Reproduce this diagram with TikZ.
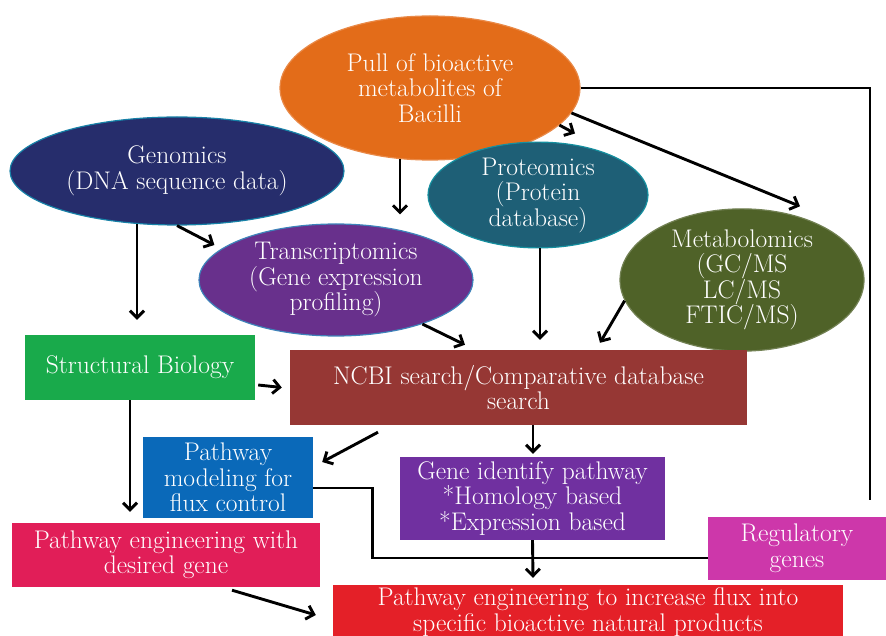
\documentclass[tikz,border=0pt]{standalone}
\usepackage{fontspec}
\usetikzlibrary{shapes.geometric,arrows.meta,calc}
\definecolor{pullc}{RGB}{227,108,25}
\definecolor{genc}{RGB}{38,45,108}
\definecolor{transc}{RGB}{104,48,140}
\definecolor{protc}{RGB}{30,95,118}
\definecolor{metabc}{RGB}{79,98,40}
\definecolor{sbc}{RGB}{25,170,75}
\definecolor{ncbic}{RGB}{150,55,52}
\definecolor{pmc}{RGB}{10,105,185}
\definecolor{gic}{RGB}{112,48,160}
\definecolor{pdgc}{RGB}{225,30,88}
\definecolor{regc}{RGB}{205,55,170}
\definecolor{botc}{RGB}{228,32,40}
\tikzset{
  txt/.style={text=white, align=center, font=\fontsize{25.5}{25.5}\selectfont},
  ell/.style={ellipse, txt, inner sep=0pt, line width=1.2pt},
  boxn/.style={rectangle, txt, inner sep=0pt},
  arr/.style={line width=2.9pt, -{Straight Barb[length=7pt,width=14pt]}},
  conn/.style={line width=2.9pt}
}
\begin{document}
\begin{tikzpicture}[x=1pt,y=1pt]
\useasboundingbox (0,0) rectangle (886,635);
\clip (0,0) rectangle (886,635);
\fill[white] (0,0) rectangle (886,635);
% ellipses
\node[ell, fill=pullc, draw=pullc!80!white, minimum width=300pt, minimum height=144pt] (pull) at (430,547) {Pull of bioactive\\metabolites of\\Bacilli};
\node[ell, fill=genc, draw=genc!60!cyan, minimum width=334pt, minimum height=108pt] (gen) at (177,464) {Genomics\\(DNA sequence data)};
\node[ell, fill=transc, draw=transc!60!cyan, minimum width=274pt, minimum height=112pt] (trans) at (336,355) {Transcriptomics\\(Gene expression\\profiling)};
\node[ell, fill=protc, draw=protc!70!cyan, minimum width=220pt, minimum height=100pt] (prot) at (538,440) {Proteomics\\(Protein\\database)};
\node[ell, fill=metabc, draw=metabc!80!white, minimum width=244pt, minimum height=114pt] (metab) at (742,355) {Metabolomics\\(GC/MS\\LC/MS\\FTIC/MS)};
% boxes
\node[boxn, fill=sbc, minimum width=230pt, minimum height=65pt] (sb) at (140,267.5) {Structural Biology};
\node[boxn, fill=ncbic, minimum width=457pt, minimum height=75pt] (ncbi) at (518.5,247.5) {NCBI search/Comparative database\\search};
\node[boxn, fill=pmc, minimum width=170pt, minimum height=81pt] (pm) at (228,157.5) {Pathway\\modeling for\\flux control};
\node[boxn, fill=gic, minimum width=265pt, minimum height=83pt] (gi) at (532.5,136.5) {Gene identify pathway\\*Homology based\\*Expression based};
\node[boxn, fill=pdgc, minimum width=308pt, minimum height=64pt] (pdg) at (166,80) {Pathway engineering with\\desired gene};
\node[boxn, fill=regc, minimum width=178pt, minimum height=63pt] (reg) at (797,86.5) {Regulatory\\genes};
\node[boxn, fill=botc, minimum width=510pt, minimum height=54pt] (bot) at (588,23) {Pathway engineering to increase flux into\\specific bioactive natural products};
% connectors
\coordinate (rend) at (870,135);
\draw[conn] (pull.east) -- (pull.east -| rend) -- (rend);
\draw[arr] (pull.-16) -- ($(prot.north)+(37,8)$);
\draw[arr] (pull.-10) -- ($(metab.north)+(58,2)$);
\draw[arr] ($(pull.south)+(-30,2)$) -- ($(trans.north)+(64,9)$);
\draw[arr] (gen.south) -- ($(trans.west)+(16,35)$);
\draw[arr] ($(gen.south)+(-40,2)$) -- ($(sb.north)+(-3,15)$);
\draw[arr] (trans.-27) -- ($(ncbi.north)+(-53.5,5)$);
\draw[arr] ($(prot.south)+(2,0)$) -- ($(ncbi.north)+(21.5,10)$);
\draw[arr] (metab.190) -- ($(ncbi.north)+(81.5,7)$);
\draw[arr] ($(sb.east)+(3,-17.5)$) -- ($(ncbi.west)+(-8,0)$);
\draw[arr] ($(sb.south)+(-10,0)$) -- ($(pdg.north)+(-36,11)$);
\draw[arr] ($(ncbi.south)+(-140.5,-7)$) -- ($(pm.east)+(9,15.5)$);
\draw[arr] ($(ncbi.south)+(14.5,0)$) -- ($(gi.north)+(0.5,3)$);
\draw[conn] ($(pm.east)+(0,-10.5)$) -- ++(59,0) |- ($(reg.west)+(0,-9.5)$);
\draw[arr] (gi.south) -- ($(bot.north)+(-55,7)$);
\draw[arr] ($(pdg.south)+(66,-3)$) -- ($(bot.west)+(-17,-3)$);
\end{tikzpicture}
\end{document}
